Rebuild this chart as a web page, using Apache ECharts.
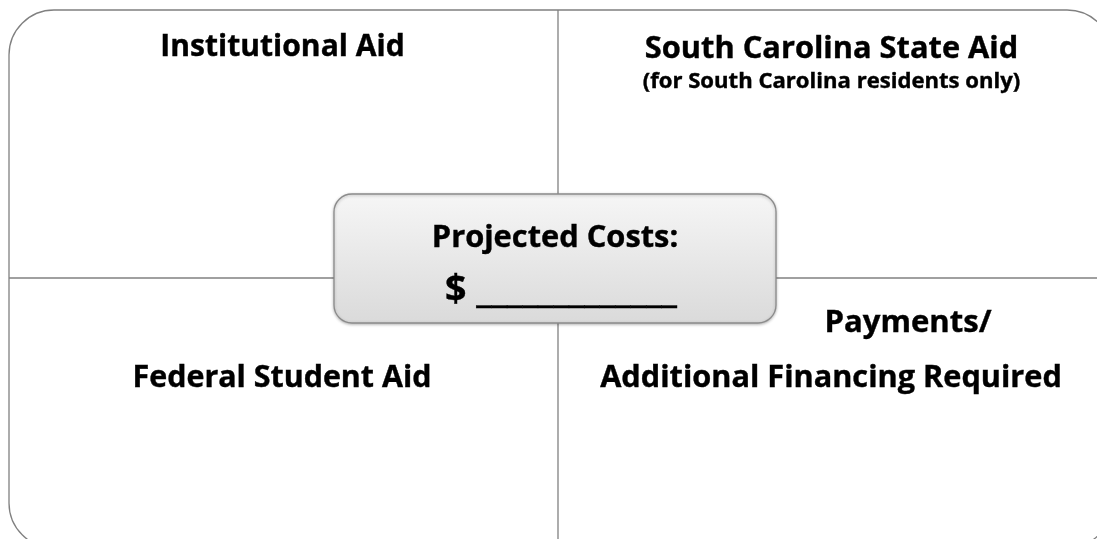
<!DOCTYPE html>
<html>
<head>
<meta charset="utf-8">
<script src="https://cdn.jsdelivr.net/npm/echarts@6/dist/echarts.min.js"></script>
<style>
  html, body { margin: 0; padding: 0; background: #fff; }
  #chart { width: 1097px; height: 539px; }
</style>
</head>
<body>
<div id="chart"></div>
<script>
// quadrant titles and the centre box text
const quadrantTitles = ['Institutional Aid', 'South Carolina State Aid', 'Federal Student Aid', 'Additional Financing Required'];
const quadrantNotes = ['(for South Carolina residents only)', 'Payments/'];
const centreLines = ['Projected Costs:', '$ _____________'];

const font = '"Open Sans", Lato, sans-serif';
const lineColor = '#808080';

// where each text sits: centre x, baseline y, width it spans
const layout = [
  [quadrantTitles[0], 282.5, 50, 245],
  [quadrantTitles[1], 831.5, 51.5, 373],
  [quadrantNotes[0], 831.5, 83, 377],
  [quadrantTitles[2], 282, 380, 299],
  [quadrantNotes[1], 908, 325, 167],
  [quadrantTitles[3], 831, 380, 462],
  [centreLines[0], 555, 240, 246],
  [centreLines[1], 561, 294, 232],
];

let measure = document.createElement('canvas').getContext('2d');
measure.font = 'bold 100px ' + font;

function label(text, cx, base, w) {
  // fit the font size to the width the text takes in the reference
  let size = (100 * w) / measure.measureText(text).width;
  return {
    type: 'text',
    x: cx,
    y: base - size * 0.07,
    style: {
      text: text,
      fill: '#000',
      stroke: '#000',
      lineWidth: 0.4,
      font: 'bold ' + size.toFixed(1) + 'px ' + font,
      align: 'center',
      verticalAlign: 'middle',
    },
  };
}

let charts = echarts.init(document.getElementById('chart'));

charts.setOption({
  animation: false,
  graphic: [
    // outer frame, runs off the right and bottom edges
    {
      type: 'rect',
      shape: { x: 9, y: 10, width: 1103, height: 538, r: 45 },
      style: { fill: '#fff', stroke: lineColor, lineWidth: 1.3 },
    },
    // dividers
    {
      type: 'line',
      shape: { x1: 558, y1: 10, x2: 558, y2: 548 },
      style: { stroke: lineColor, lineWidth: 1.3 },
    },
    {
      type: 'line',
      shape: { x1: 9, y1: 278, x2: 1112, y2: 278 },
      style: { stroke: lineColor, lineWidth: 1.3 },
    },
    // centre box
    {
      type: 'rect',
      shape: { x: 334, y: 194, width: 442, height: 129, r: 18 },
      style: {
        fill: new echarts.graphic.LinearGradient(0, 0, 0, 1, [
          { offset: 0, color: '#f6f6f6' },
          { offset: 1, color: '#dadada' },
        ]),
        stroke: '#8c8c8c',
        lineWidth: 1.3,
        shadowBlur: 3,
        shadowColor: 'rgba(0,0,0,0.25)',
        shadowOffsetY: 1,
      },
    },
  ].concat(layout.map((d) => label(d[0], d[1], d[2], d[3]))),
});
</script>
</body>
</html>
